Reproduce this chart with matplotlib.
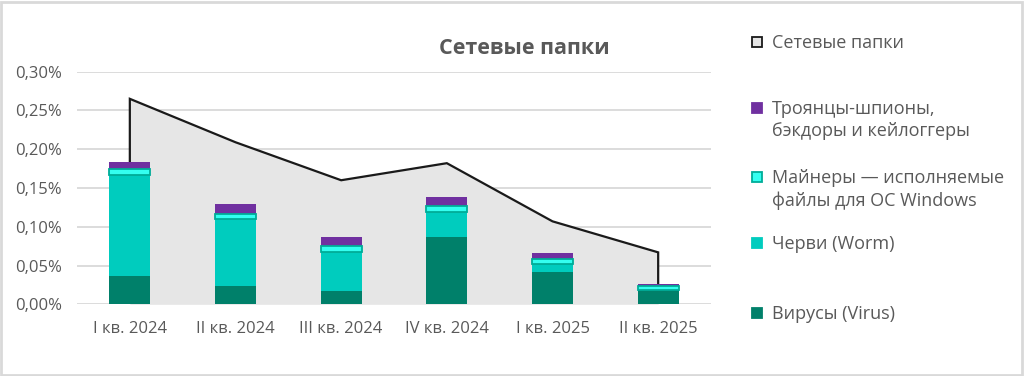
import matplotlib
matplotlib.use("Agg")
import matplotlib.pyplot as plt
from matplotlib.patches import Rectangle
from matplotlib.ticker import FuncFormatter

categories = ["I кв. 2024", "II кв. 2024", "III кв. 2024", "IV кв. 2024", "I кв. 2025", "II кв. 2025"]
total = [0.265, 0.209, 0.160, 0.182, 0.107, 0.067]      # Сетевые папки
virus = [0.0365, 0.0236, 0.0176, 0.0865, 0.0417, 0.018]
worm = [0.1305, 0.0864, 0.0504, 0.0325, 0.0107, 0.001]
miner = [0.008, 0.007, 0.007, 0.008, 0.006, 0.005]
trojan = [0.009, 0.012, 0.0115, 0.011, 0.0073, 0.002]

legend_labels = ["Сетевые папки", "Троянцы-шпионы,\nбэкдоры и кейлоггеры",
                 "Майнеры — исполняемые\nфайлы для ОС Windows", "Черви (Worm)", "Вирусы (Virus)"]

FONT = ["Open Sans", "DejaVu Sans"]
plt.rcParams['font.family'] = FONT

c_virus = "#00806A"
c_worm = "#00CCBE"
c_miner = "#33FFF0"
c_miner_edge = "#00AC98"
c_trojan = "#7030A0"
c_area = "#E6E6E6"
c_text = "#595959"

fig = plt.figure(figsize=(10.24, 3.76), dpi=100)
ax = fig.add_axes([77/1024, 1 - 304.3/376, (711-77)/1024, (304.3-71.7)/376])

x = list(range(len(categories)))
ax.set_xlim(-0.5, 5.5)
ax.set_ylim(0, 0.30)

# gridlines
ax.set_yticks([0, 0.05, 0.10, 0.15, 0.20, 0.25, 0.30])
ax.grid(axis='y', color='#D9D9D9', linewidth=1.3, zorder=0)
ax.set_axisbelow(True)

# area
ax.fill_between(x, total, 0, color=c_area, linewidth=0, zorder=1)
lx = [x[0]] + x + [x[-1]]
ly = [0] + total + [0]
ax.plot(lx, ly, color='#1A1A1A', linewidth=1.6, zorder=2, solid_joinstyle='miter')

w = 0.39
b1 = virus
b2 = [a + b for a, b in zip(b1, worm)]
b3 = [a + b for a, b in zip(b2, miner)]
ax.bar(x, virus, width=w, color=c_virus, zorder=3, linewidth=0)
ax.bar(x, worm, width=w, bottom=b1, color=c_worm, zorder=3, linewidth=0)
ax.bar(x, miner, width=w, bottom=b2, color=c_miner, edgecolor=c_miner_edge, linewidth=1.3, zorder=4)
ax.bar(x, trojan, width=w, bottom=b3, color=c_trojan, zorder=3, linewidth=0)

for s in ax.spines.values():
    s.set_visible(False)
ax.tick_params(axis='both', length=0, colors=c_text, labelsize=12)
ax.tick_params(axis='y', pad=11)
ax.tick_params(axis='x', pad=12)
ax.set_xticks(x)
ax.set_xticklabels(categories)
ax.yaxis.set_major_formatter(FuncFormatter(lambda v, p: f"{v:.2f}%".replace('.', ',')))

# title
fig.text(524/1024, 1 - 48/376, "Сетевые папки", ha='center', va='center',
         fontsize=15.5, fontweight='bold', color=c_text)

# legend
leg_items = [
    (legend_labels[0], c_area, '#1A1A1A', 42),
    (legend_labels[1], c_trojan, c_trojan, 108),
    (legend_labels[2], c_miner, c_miner_edge, 177),
    (legend_labels[3], c_worm, c_worm, 243),
    (legend_labels[4], c_virus, c_virus, 313),
]
sq = 10
for label, fc, ec, yc in leg_items:
    fig.patches.append(Rectangle((752/1024, 1 - (yc + sq/2)/376), sq/1024, sq/376,
                                 transform=fig.transFigure, facecolor=fc, edgecolor=ec,
                                 linewidth=1.3, figure=fig))
    fig.text(772/1024, 1 - (yc - 8)/376, label, ha='left', va='top', fontsize=13,
             color=c_text, linespacing=1.3)

# border
fig.patches.append(Rectangle((1/1024, 1/376), 1021/1024, 373/376, transform=fig.transFigure,
                             facecolor='none', edgecolor='#D9D9D9', linewidth=2, figure=fig))

fig.savefig("out.png", dpi=100)
